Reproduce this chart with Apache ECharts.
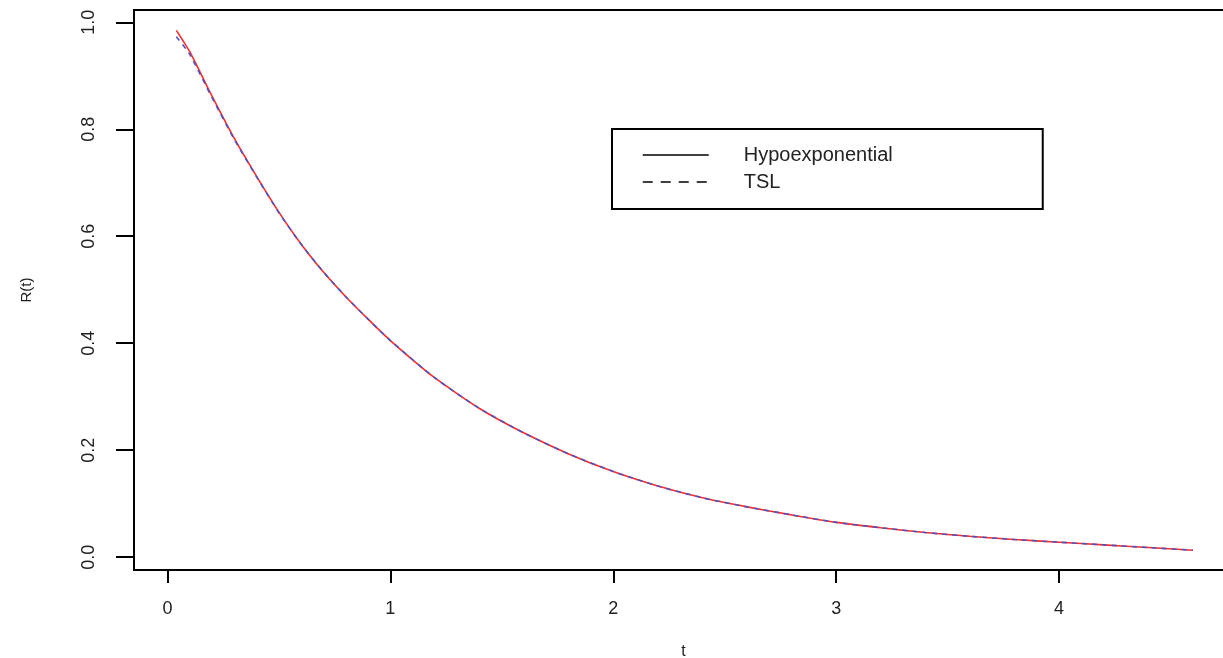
<!DOCTYPE html>
<html>
<head>
<meta charset="utf-8">
<script src="https://cdn.jsdelivr.net/npm/echarts@6/dist/echarts.min.js"></script>
<style>
  html, body { margin: 0; padding: 0; background: #fff; }
  #chart { width: 1223px; height: 658px; }
</style>
</head>
<body>
<div id="chart"></div>
<script>
// values
const tValues = [0.04, 0.1, 0.2, 0.3, 0.4, 0.5, 0.6, 0.7, 0.8, 0.9, 1.0, 1.2, 1.4, 1.6, 1.8,
  2.0, 2.2, 2.4, 2.6, 2.8, 3.0, 3.2, 3.4, 3.6, 3.8, 4.0, 4.2, 4.4, 4.6];
const hypoValues = [0.985, 0.945, 0.862, 0.783, 0.712, 0.645, 0.585, 0.533, 0.487, 0.445, 0.405,
  0.335, 0.278, 0.232, 0.193, 0.16, 0.133, 0.111, 0.094, 0.079, 0.065, 0.055, 0.046, 0.039,
  0.033, 0.028, 0.023, 0.018, 0.013];
const tslValues = [0.973, 0.94, 0.859, 0.781, 0.711, 0.644, 0.585, 0.533, 0.487, 0.445, 0.405,
  0.335, 0.278, 0.232, 0.193, 0.16, 0.133, 0.111, 0.094, 0.079, 0.065, 0.055, 0.046, 0.039,
  0.033, 0.028, 0.023, 0.018, 0.013];
const xTicks = [0, 1, 2, 3, 4];
const yTicks = [0, 0.2, 0.4, 0.6, 0.8, 1.0];

const chart = echarts.init(document.getElementById('chart'));
const font = 'Liberation Sans, Arial, sans-serif';
const noSymbol = { color: 'transparent', borderColor: 'transparent', borderWidth: 0 };

const option = {
  animation: false,
  backgroundColor: '#fff',
  grid: {
    left: 134,
    right: -10,
    top: 10,
    bottom: 88,
    outerBoundsMode: 'none',
    show: true,
    borderColor: '#000',
    borderWidth: 2,
    backgroundColor: 'transparent'
  },
  legend: {
    orient: 'vertical',
    left: 612,
    top: 129,
    padding: [16, 150, 17, 30],
    borderColor: '#000',
    borderWidth: 2,
    itemWidth: 66,
    itemHeight: 14,
    itemGap: 7,
    itemStyle: noSymbol,
    textStyle: { fontFamily: font, fontSize: 20, color: '#222', padding: [0, 0, 0, 30] },
    data: [
      { name: 'Hypoexponential', itemStyle: noSymbol, lineStyle: { color: '#000', width: 1.5, type: 'solid' } },
      { name: 'TSL', itemStyle: noSymbol, lineStyle: { color: '#000', width: 1.5, type: [10, 8] } }
    ]
  },
  xAxis: {
    type: 'value',
    min: -0.15,
    max: 4.78,
    name: 't',
    nameLocation: 'middle',
    nameGap: 74,
    nameTextStyle: { fontFamily: font, fontSize: 16, color: '#222' },
    axisLine: { show: false, onZero: false },
    splitLine: { show: false },
    axisTick: { show: true, length: 13, customValues: xTicks, lineStyle: { color: '#000', width: 2 } },
    axisLabel: {
      customValues: xTicks,
      margin: 30,
      fontFamily: font, fontSize: 18, color: '#222',
      formatter: v => String(v)
    }
  },
  yAxis: {
    type: 'value',
    min: -0.024,
    max: 1.023,
    name: 'R(t)',
    nameLocation: 'middle',
    nameRotate: 90,
    nameGap: 100,
    nameTextStyle: { fontFamily: font, fontSize: 15, color: '#222' },
    axisLine: { show: false, onZero: false },
    splitLine: { show: false },
    axisTick: { show: true, length: 18, customValues: yTicks, lineStyle: { color: '#000', width: 2 } },
    axisLabel: {
      customValues: yTicks,
      rotate: 90,
      margin: 36,
      fontFamily: font, fontSize: 18, color: '#222',
      formatter: v => v.toFixed(1)
    }
  },
  series: [
    {
      name: 'Hypoexponential',
      type: 'line',
      data: tValues.map((t, i) => [t, hypoValues[i]]),
      symbol: 'none',
      smooth: 0.2,
      lineStyle: { color: '#ff2a2a', width: 1.6 },
      itemStyle: { color: '#ff2a2a' },
      z: 2
    },
    {
      name: 'TSL',
      type: 'line',
      data: tValues.map((t, i) => [t, tslValues[i]]),
      symbol: 'none',
      smooth: 0.2,
      lineStyle: { color: '#4a55c0', width: 1.6, type: [5, 5] },
      itemStyle: { color: '#4a55c0' },
      z: 3
    }
  ]
};

chart.setOption(option);
window.addEventListener('resize', () => chart.resize());
</script>
</body>
</html>
